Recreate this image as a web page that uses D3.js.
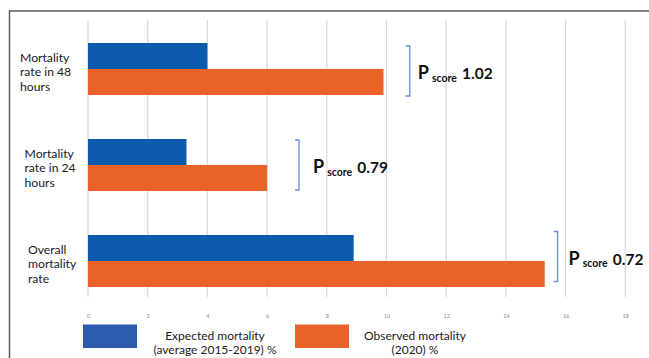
<!DOCTYPE html>
<html>
<head>
<meta charset="utf-8">
<script src="https://cdn.jsdelivr.net/npm/d3@7"></script>
<style>
  html, body { margin: 0; padding: 0; background: #fff; }
  svg { display: block; font-family: Lato, "Open Sans", sans-serif; }
</style>
</head>
<body>
<svg id="chart" width="649" height="358"></svg>
<script>
// Categories (top to bottom) and their wrapped label lines
const categories = ["Mortality rate in 48 hours", "Mortality rate in 24 hours", "Overall mortality rate"];
const categoryLines = [["Mortality", "rate in 48", "hours"], ["Mortality", "rate in 24", "hours"], ["Overall", "mortality", "rate"]];

// Series values (%)
const expected = [4.0, 3.3, 8.9];   // average 2015-2019
const observed = [9.9, 6.0, 15.3];  // 2020

// P-score per category, with where its bracket sits on the value axis
const pScores = ["1.02", "0.79", "0.72"];
const bracketAt = [10.78, 7.07, 15.73];
const pLabelAt = [11.05, 7.54, 16.1];

// Axis ticks
const tickValues = [0, 2, 4, 6, 8, 10, 12, 14, 16, 18];

const seriesNames = ["Expected", "Observed"];
const legendLabels = [["Expected mortality", "(average 2015-2019) %"], ["Observed mortality", "(2020) %"]];

const barColors = ["#0c5bad", "#e8622a"];
const legendColors = ["#2e5caf", "#e8622a"];

const svg = d3.select("#chart");

// Outer frame (top and left edges are visible)
svg.append("rect")
  .attr("x", 9.5).attr("y", 11)
  .attr("width", 700).attr("height", 400)
  .attr("fill", "none").attr("stroke", "#5a5a5a").attr("stroke-width", 1.5);

const x = d3.scaleLinear().domain([0, 18]).range([88, 625.3]);
const y = d3.scaleBand().domain(categories).range([21, 309]).paddingInner(44 / 96).paddingOuter(22 / 96);
const ySub = d3.scaleBand().domain(seriesNames).range([0, y.bandwidth()]);

// Vertical grid
svg.append("g").selectAll("line")
  .data(tickValues)
  .join("line")
  .attr("x1", d => x(d)).attr("x2", d => x(d))
  .attr("y1", 20).attr("y2", 297)
  .attr("stroke", "#d9d9d9").attr("stroke-width", 1.2);

// Tick labels
const axis = d3.axisBottom(x).tickValues(tickValues).tickSize(0).tickPadding(0).tickFormat(d3.format("d"));
const axisG = svg.append("g").attr("transform", "translate(0,314)").call(axis);
axisG.select(".domain").remove();
axisG.selectAll("text").attr("font-size", 5.5).attr("fill", "#8a8a8a").attr("font-family", "Lato, sans-serif");

// Bars
const rows = categories.map((c, i) => ({ cat: c, values: [expected[i], observed[i]] }));
const groups = svg.append("g").selectAll("g")
  .data(rows)
  .join("g")
  .attr("transform", d => `translate(0,${y(d.cat)})`);

groups.selectAll("rect")
  .data(d => d.values.map((v, j) => ({ s: seriesNames[j], v, j })))
  .join("rect")
  .attr("x", x(0))
  .attr("y", d => ySub(d.s))
  .attr("width", d => x(d.v) - x(0))
  .attr("height", ySub.bandwidth())
  .attr("fill", d => barColors[d.j]);

// Category labels, lines left-aligned in a block beside each group
const labelLeft = [20, 24.5, 28];
const labels = svg.append("g").selectAll("text")
  .data(categories)
  .join("text")
  .attr("font-size", 12.2)
  .attr("fill", "#1a1a1a");
labels.each(function (c, i) {
  const mid = y(c) + y.bandwidth() / 2 + 3;
  d3.select(this).selectAll("tspan")
    .data(categoryLines[i])
    .join("tspan")
    .attr("x", labelLeft[i])
    .attr("y", (d, k) => mid + (k - 1) * 14.5 + 4.3)
    .text(d => d);
});

// P-score brackets and labels
const bracketShift = [2, 0, -4.5];
categories.forEach((c, i) => {
  const cy = y(c) + y.bandwidth() / 2 + bracketShift[i];
  const bx = x(bracketAt[i]);
  svg.append("path")
    .attr("d", `M${bx - 4},${cy - 25}H${bx}V${cy + 25}H${bx - 4}`)
    .attr("fill", "none").attr("stroke", "#6a8ed0").attr("stroke-width", 1.3);
  const t = svg.append("text")
    .attr("x", x(pLabelAt[i]))
    .attr("y", cy + 8)
    .attr("font-weight", "bold")
    .attr("fill", "#111");
  t.append("tspan").attr("font-size", 18).text("P");
  t.append("tspan").attr("font-size", 10.5).attr("dx", 3).attr("dy", 2.5).text("score");
  t.append("tspan").attr("font-size", 15.5).attr("dx", 5).attr("dy", -2.5).text(pScores[i]);
});

// Legend
const legendRectX = [83, 295];
const legendTextX = [215, 415];
seriesNames.forEach((s, i) => {
  svg.append("rect")
    .attr("x", legendRectX[i]).attr("y", 324.5)
    .attr("width", 54).attr("height", 23.5)
    .attr("fill", legendColors[i]);
  svg.append("text")
    .attr("text-anchor", "middle")
    .attr("font-size", 12)
    .attr("fill", "#1a1a1a")
    .selectAll("tspan")
    .data(legendLabels[i])
    .join("tspan")
    .attr("x", legendTextX[i])
    .attr("y", (d, k) => 339.5 + k * 14.5)
    .text(d => d);
});
</script>
</body>
</html>
